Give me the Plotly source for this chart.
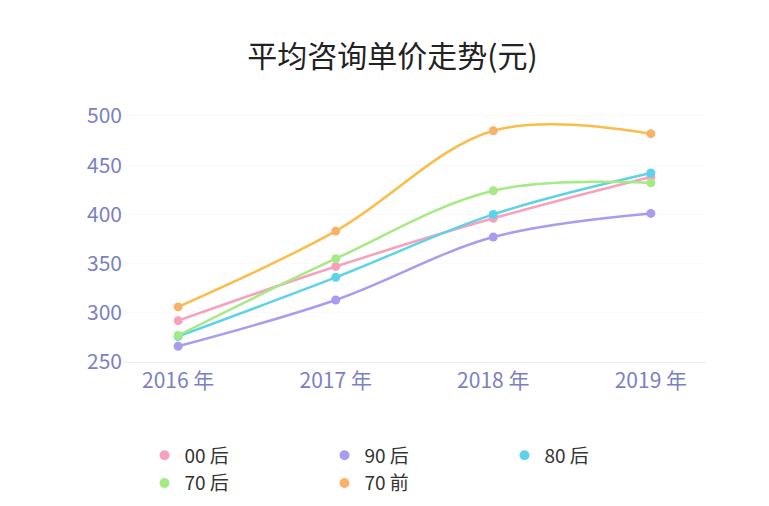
import plotly.graph_objects as go

years = ["2016 年", "2017 年", "2018 年", "2019 年"]
names = ["00 后", "90 后", "80 后", "70 后", "70 前"]
v00 = [292, 347, 396, 438]
v90 = [266, 313, 377, 401]
v80 = [276, 336, 400, 442]
v70h = [277, 355, 424, 432]
v70q = [306, 383, 485, 482]
series = [v00, v90, v80, v70h, v70q]
line_colors = ["#f7a1bd", "#a99cf0", "#5dd3ea", "#a6ea86", "#fbbd4a"]
dot_colors = ["#f7a1bd", "#a99cf0", "#5dd3ea", "#a6ea86", "#f9b26a"]

fig = go.Figure()
for name, vals, lc, dc in zip(names, series, line_colors, dot_colors):
    fig.add_trace(go.Scatter(
        x=years, y=vals, name=name, mode="lines+markers", showlegend=False,
        line=dict(color=lc, width=2.5, shape="spline", smoothing=1.0),
        marker=dict(color=dc, size=9),
    ))
# legend entries: dots only
for name, dc in zip(names, dot_colors):
    fig.add_trace(go.Scatter(x=[None], y=[None], name=name, mode="markers",
                             marker=dict(color=dc, size=10)))

fig.update_layout(
    width=769, height=506,
    paper_bgcolor="white", plot_bgcolor="white",
    font=dict(family="Noto Sans CJK SC", color="#7b7fc4"),
    title=dict(text="平均咨询单价走势(元)", x=0.5, y=0.905, xanchor="center", yanchor="middle",
               font=dict(size=30, color="#222222")),
    margin=dict(l=115, r=71, t=106, b=99),
    legend=dict(orientation="h", x=0.5, xanchor="center", y=-0.3, yanchor="top",
                font=dict(size=19, color="#333333"), entrywidth=135, traceorder="normal"),
    xaxis=dict(type="category", showgrid=False, showline=True, linecolor="#eeeeee",
               tickfont=dict(size=21, color="#7b7fc4"), ticks="", range=[-0.35, 3.35]),
    yaxis=dict(range=[250, 502], tickvals=[250, 300, 350, 400, 450, 500],
               showgrid=True, gridcolor="#fafafa", zeroline=False, showline=False,
               tickfont=dict(size=21, color="#7b7fc4"), ticksuffix="  "),
)
fig.write_html("out.html")
